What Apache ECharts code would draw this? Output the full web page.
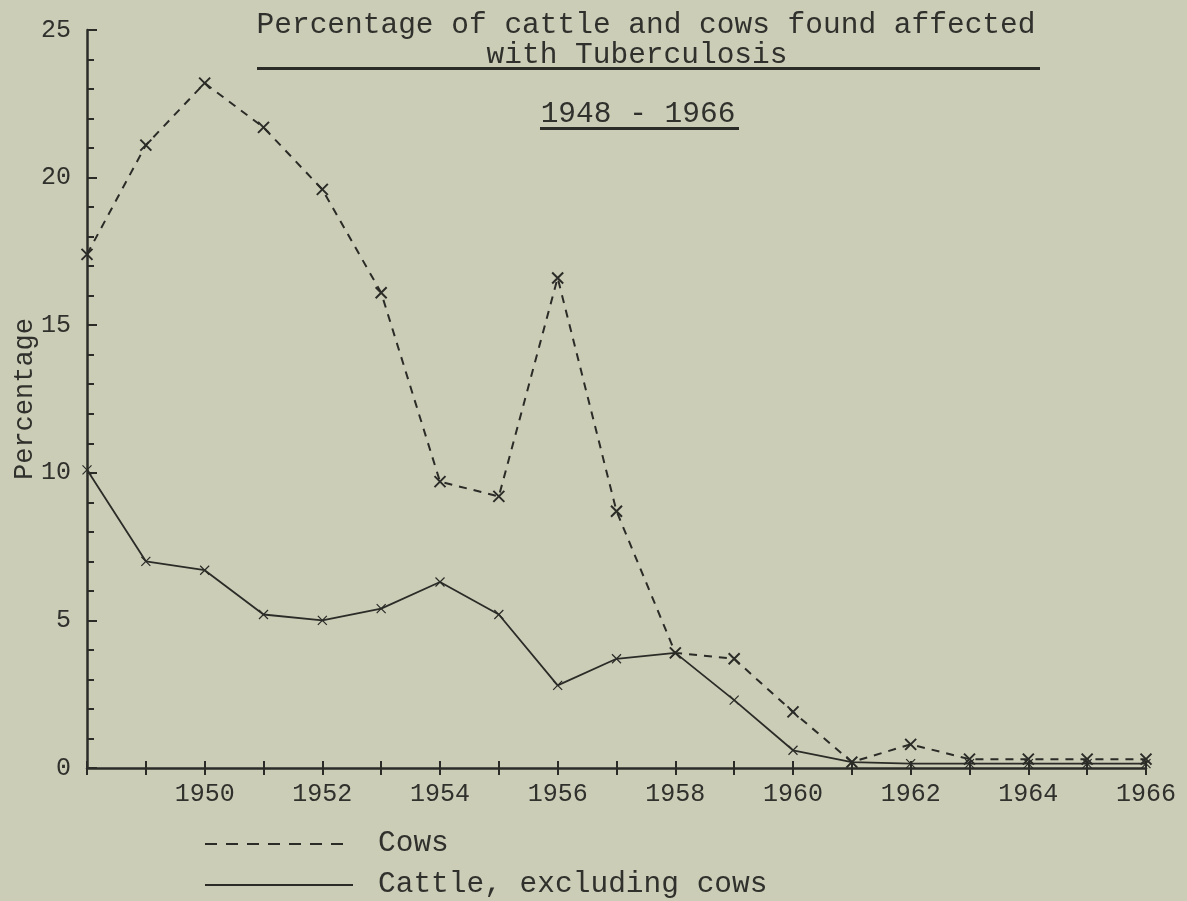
<!DOCTYPE html>
<html>
<head>
<meta charset="utf-8">
<script src="https://cdn.jsdelivr.net/npm/echarts@6/dist/echarts.min.js"></script>
<style>
html,body{margin:0;padding:0;background:#cbcdb7;}
#chart{width:1187px;height:901px;}
</style>
</head>
<body>
<div id="chart"></div>
<script>
var years = [1948,1949,1950,1951,1952,1953,1954,1955,1956,1957,1958,1959,1960,1961,1962,1963,1964,1965,1966];
var cows = [17.4,21.1,23.2,21.7,19.6,16.1,9.7,9.2,16.6,8.7,3.9,3.7,1.9,0.2,0.8,0.3,0.3,0.3,0.3];
var cattle = [10.1,7.0,6.7,5.2,5.0,5.4,6.3,5.2,2.8,3.7,3.9,2.3,0.6,0.2,0.15,0.15,0.15,0.15,0.15];
var xTickLabels = [1950,1952,1954,1956,1958,1960,1962,1964,1966];
var yTickLabels = [0,5,10,15,20,25];
var titleLine1 = 'Percentage of cattle and cows found affected';
var titleLine2 = 'with Tuberculosis';
var subTitle = '1948 - 1966';
var yName = 'Percentage';
var legendNames = ['Cows','Cattle, excluding cows'];

var ink = '#2b2b27';
var txt = '#30302c';
var font = '"Liberation Mono","DejaVu Sans Mono",monospace';
var cross = 'path://M0,0L10,10M10,0L0,10';

function pairs(vals){ return years.map(function(y,i){ return [y, vals[i]]; }); }

var chart = echarts.init(document.getElementById('chart'));
chart.setOption({
  backgroundColor: '#cbcdb7',
  animation: false,
  grid: {left: 87, right: 41, top: 30, bottom: 133, containLabel: false, outerBoundsMode: 'none'},
  xAxis: [{
    type: 'value', min: 1948, max: 1966, interval: 1,
    axisLine: {show: true, lineStyle: {color: ink, width: 2.5}},
    axisTick: {show: true, length: 7, lineStyle: {color: ink, width: 2}},
    splitLine: {show: false},
    axisLabel: {
      color: txt, fontFamily: font, fontSize: 25, margin: 14,
      formatter: function(v){ return xTickLabels.indexOf(v) >= 0 ? String(v) : ''; }
    }
  },{
    type: 'value', min: 1948, max: 1966, interval: 1, position: 'bottom',
    axisLine: {show: false},
    axisTick: {show: true, inside: true, length: 7, lineStyle: {color: ink, width: 2}},
    splitLine: {show: false},
    axisLabel: {show: false}
  }],
  yAxis: {
    type: 'value', min: 0, max: 25, interval: 5,
    name: yName, nameLocation: 'middle', nameGap: 49, nameRotate: 90, nameMoveOverlap: false,
    nameTextStyle: {color: txt, fontFamily: font, fontSize: 27},
    axisLine: {show: true, lineStyle: {color: ink, width: 2.5}},
    axisTick: {show: true, inside: true, length: 10, lineStyle: {color: ink, width: 2}},
    minorTick: {show: true, splitNumber: 5, length: 7, lineStyle: {color: ink, width: 2}},
    splitLine: {show: false},
    axisLabel: {
      color: txt, fontFamily: font, fontSize: 25, margin: 16,
      formatter: function(v){ return yTickLabels.indexOf(v) >= 0 ? String(v) : ''; }
    }
  },
  series: [{
    name: legendNames[0], type: 'line', data: pairs(cows),
    lineStyle: {color: ink, width: 2, type: [8, 7]},
    symbol: cross, symbolSize: 11,
    itemStyle: {color: ink, borderColor: ink, borderWidth: 2}
  },{
    name: legendNames[1], type: 'line', data: pairs(cattle),
    lineStyle: {color: ink, width: 1.8},
    symbol: cross, symbolSize: 9,
    itemStyle: {color: ink, borderColor: ink, borderWidth: 1.2}
  }],
  graphic: [
    {type: 'text', x: 646, y: 25, style: {text: titleLine1, fill: txt, font: '29.5px ' + font, textAlign: 'center', textVerticalAlign: 'middle'}},
    {type: 'text', x: 637, y: 55, style: {text: titleLine2, fill: txt, font: '29.5px ' + font, textAlign: 'center', textVerticalAlign: 'middle'}},
    {type: 'rect', shape: {x: 257, y: 67, width: 783, height: 3}, style: {fill: ink}},
    {type: 'text', x: 638, y: 114, style: {text: subTitle, fill: txt, font: '29.5px ' + font, textAlign: 'center', textVerticalAlign: 'middle'}},
    {type: 'rect', shape: {x: 540, y: 127, width: 199, height: 3}, style: {fill: ink}},
    {type: 'line', shape: {x1: 205, y1: 844, x2: 352, y2: 844}, style: {stroke: ink, lineWidth: 2, lineDash: [12, 9]}},
    {type: 'text', x: 378, y: 843, style: {text: legendNames[0], fill: txt, font: '29.5px ' + font, textVerticalAlign: 'middle'}},
    {type: 'line', shape: {x1: 205, y1: 885, x2: 353, y2: 885}, style: {stroke: ink, lineWidth: 2.2}},
    {type: 'text', x: 378, y: 884, style: {text: legendNames[1], fill: txt, font: '29.5px ' + font, textVerticalAlign: 'middle'}}
  ]
});
</script>
</body>
</html>
